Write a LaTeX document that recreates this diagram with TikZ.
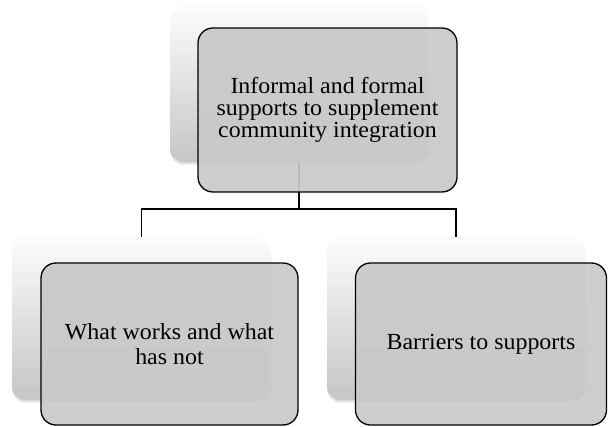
\documentclass[tikz,border=0pt]{standalone}
\usepackage{fontspec}
\setmainfont{Liberation Serif}[FakeStretch=1.04]
\usetikzlibrary{shadows}
\begin{document}
\begin{tikzpicture}[x=1pt,y=-1pt,
  back/.style={rounded corners=14pt, top color=gray!2, middle color=gray!12, bottom color=gray!45, draw=none,
    drop shadow={opacity=0.25,shadow xshift=0pt,shadow yshift=-2.5pt}},
  front/.style={rounded corners=15pt, draw=black, line width=1.3pt, fill=gray!42,
    fill opacity=0.93, text opacity=1, align=center, inner sep=0pt,
    font=\fontsize{23}{22}\selectfont},
  conn/.style={draw=black, line width=1.2pt}]
\useasboundingbox (0,0) rectangle (608,427);
% background cards
\node[back, minimum width=258pt, minimum height=157pt] (bgtop) at (299,83.5) {};
\node[back, minimum width=259pt, minimum height=163pt] (bgl) at (141.5,318.5) {};
\node[back, minimum width=258pt, minimum height=163pt] (bgr) at (456,318.5) {};
% connectors
\coordinate (hub) at (299,209);
\draw[conn] (bgtop.south) -- (hub);
\draw[conn] (hub) -| (bgl.north);
\draw[conn] (hub) -| (bgr.north);
% front cards
\node[front, minimum width=259pt, minimum height=164pt] (top) at (327.5,110)
  {Informal and formal\\supports to supplement\\community integration};
\node[front, minimum width=257pt, minimum height=162pt, font=\fontsize{23}{25}\selectfont] (l) at (169.5,344)
  {What works and what\\has not};
\node[front, minimum width=251pt, minimum height=162pt] (r) at (481,344)
  {Barriers to supports};
\end{tikzpicture}
\end{document}
